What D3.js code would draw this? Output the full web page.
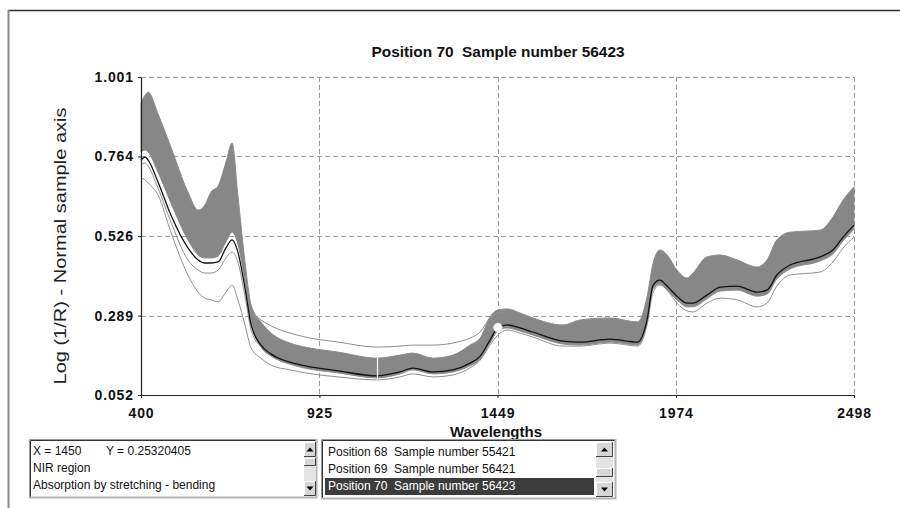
<!DOCTYPE html>
<html><head><meta charset="utf-8">
<script src="https://cdn.jsdelivr.net/npm/d3@7"></script>
<style>body{margin:0;background:#fff;} svg{display:block;}</style>
</head><body>
<svg id="chart" width="900" height="508"></svg>
<script>
// ---------- data ----------
const wavelengths = [400,412,421,450,488,538,568,588,606,627,650,668,685,706,724,753,783,838,883,980,
  1094,1162,1200,1259,1318,1368,1398,1427,1450,1477,1515,1553,1642,1692,1780,1862,1889,1907,1927,1948,
  1977,2007,2024,2065,2104,2154,2213,2242,2271,2310,2398,2436,2466,2498];

// upper envelope of the dense bundle of spectra
const bandUpper = [0.923,0.947,0.956,0.891,0.792,0.658,0.604,0.619,0.658,0.676,0.747,0.804,0.649,0.449,0.321,0.270,0.237,0.207,0.195,0.180,
  0.162,0.171,0.177,0.162,0.171,0.201,0.222,0.285,0.306,0.309,0.297,0.282,0.261,0.276,0.282,0.270,0.345,0.446,0.485,0.470,
  0.425,0.401,0.416,0.464,0.470,0.455,0.434,0.455,0.515,0.538,0.544,0.583,0.634,0.673];

// lower envelope of the dense bundle
const bandLower = [0.777,0.783,0.777,0.717,0.625,0.515,0.470,0.461,0.461,0.467,0.509,0.538,0.503,0.389,0.270,0.195,0.168,0.144,0.132,0.118,
  0.103,0.115,0.127,0.115,0.121,0.139,0.159,0.207,0.243,0.252,0.243,0.231,0.204,0.201,0.210,0.201,0.267,0.368,0.383,0.365,
  0.336,0.315,0.315,0.339,0.362,0.365,0.347,0.353,0.398,0.428,0.452,0.473,0.512,0.547];

// selected spectrum: Position 70, sample 56423 (black)
const sample70 = [0.753,0.762,0.753,0.688,0.589,0.491,0.455,0.446,0.446,0.449,0.491,0.515,0.479,0.371,0.261,0.201,0.174,0.150,0.139,0.124,
  0.109,0.121,0.132,0.121,0.127,0.147,0.168,0.216,0.2532,0.261,0.252,0.240,0.213,0.210,0.219,0.210,0.276,0.380,0.395,0.377,
  0.347,0.326,0.326,0.350,0.374,0.377,0.359,0.365,0.410,0.440,0.464,0.485,0.523,0.559];

// lowest outlying spectrum
const lowOutlier = [0.700,0.694,0.685,0.649,0.538,0.410,0.359,0.341,0.336,0.330,0.359,0.380,0.336,0.261,0.192,0.162,0.141,0.127,0.118,0.106,
  0.097,0.106,0.115,0.106,0.112,0.133,0.156,0.201,0.231,0.246,0.237,0.225,0.198,0.198,0.207,0.198,0.261,0.359,0.380,0.365,
  0.326,0.303,0.300,0.326,0.341,0.336,0.315,0.326,0.377,0.410,0.419,0.449,0.491,0.523];

// second low spectrum, visible only in the visible range
const lowOutlier2Wl = [400,412,421,450,488,538,568,588,606,627,650,668,685,706,724,753];
const lowOutlier2 = [0.738,0.744,0.735,0.670,0.568,0.455,0.425,0.416,0.416,0.425,0.461,0.479,0.449,0.347,0.246,0.197];

// spectrum lying above the bundle between ~700 and ~1450 nm
const highOutlierWl = [706,724,753,783,838,883,980,1094,1162,1200,1259,1318,1368,1398,1427,1450,1477];
const highOutlier = [0.410,0.300,0.276,0.258,0.237,0.225,0.210,0.195,0.198,0.201,0.201,0.207,0.222,0.240,0.282,0.297,0.300];

const xTicks = [400, 925, 1449, 1974, 2498];
const yTicks = [0.052, 0.289, 0.526, 0.764, 1.001];

const cursorPoint = {x: 1450, y: 0.25320405};
const cursorLineWl = 1094;

const titleText = "Position 70  Sample number 56423";
const xTitle = "Wavelengths";
const yTitle = "Log (1/R) - Normal sample axis";
const infoLines = ["NIR region", "Absorption by stretching - bending"];
const listItems = ["Position 68  Sample number 55421", "Position 69  Sample number 56421", "Position 70  Sample number 56423"];

// ---------- drawing ----------
const svg = d3.select("#chart");
const x = d3.scaleLinear().domain([400, 2498]).range([141, 854]);
const y = d3.scaleLinear().domain([0.052, 1.001]).range([395, 77]);

// outer frame
svg.append("line").attr("x1", 8).attr("y1", 10.5).attr("x2", 900).attr("y2", 10.5)
  .attr("stroke", "#333").attr("stroke-width", 1.3);
svg.append("line").attr("x1", 8.5).attr("y1", 10).attr("x2", 8.5).attr("y2", 508)
  .attr("stroke", "#8a8a8a").attr("stroke-width", 2);

// title
svg.append("text").attr("x", 498).attr("y", 57).attr("text-anchor", "middle")
  .style("white-space", "pre")
  .attr("font-family", "'Liberation Sans Narrow','Arial Narrow','Liberation Sans',Arial,sans-serif")
  .attr("font-weight", "bold").attr("font-size", 14)
  .attr("textLength", 253).attr("lengthAdjust", "spacingAndGlyphs")
  .attr("fill", "#111").text(titleText);

// grid
const grid = svg.append("g");
grid.selectAll("line.gx").data(xTicks.slice(1)).join("line")
  .attr("x1", d => Math.round(x(d)) + 0.5).attr("x2", d => Math.round(x(d)) + 0.5)
  .attr("y1", y(1.001)).attr("y2", y(0.052))
  .attr("stroke", "#9a9a9a").attr("stroke-dasharray", "5,3");
grid.selectAll("line.gy").data(yTicks.slice(1)).join("line")
  .attr("y1", d => Math.round(y(d)) + 0.5).attr("y2", d => Math.round(y(d)) + 0.5)
  .attr("x1", x(400)).attr("x2", x(2498))
  .attr("stroke", "#9a9a9a").attr("stroke-dasharray", "5,3");

// band of spectra
const idx = d3.range(wavelengths.length);
const area = d3.area()
  .x(i => x(wavelengths[i])).y0(i => y(bandLower[i])).y1(i => y(bandUpper[i]))
  .curve(d3.curveMonotoneX);
svg.append("path").attr("d", area(idx))
  .attr("fill", "#878787").attr("stroke", "#8c8c8c").attr("stroke-width", 1);

const lineOf = (wl, vals) => d3.line()
  .x((d, i) => x(wl[i])).y(d => y(d)).curve(d3.curveMonotoneX)(vals);

svg.append("path").attr("d", lineOf(highOutlierWl, highOutlier))
  .attr("fill", "none").attr("stroke", "#8f8f8f").attr("stroke-width", 1);
svg.append("path").attr("d", lineOf(lowOutlier2Wl, lowOutlier2))
  .attr("fill", "none").attr("stroke", "#8f8f8f").attr("stroke-width", 1);
svg.append("path").attr("d", lineOf(wavelengths, lowOutlier))
  .attr("fill", "none").attr("stroke", "#8f8f8f").attr("stroke-width", 1);
svg.append("path").attr("d", lineOf(wavelengths, sample70))
  .attr("fill", "none").attr("stroke", "#111").attr("stroke-width", 1.3);

// cursor marks
const ci = wavelengths.indexOf(cursorLineWl);
svg.append("line")
  .attr("x1", Math.round(x(cursorLineWl)) + 0.5).attr("x2", Math.round(x(cursorLineWl)) + 0.5)
  .attr("y1", y(bandUpper[ci])).attr("y2", y(lowOutlier[ci]))
  .attr("stroke", "#fff").attr("stroke-width", 1.2);
svg.append("circle").attr("cx", x(cursorPoint.x)).attr("cy", y(cursorPoint.y)).attr("r", 4.5)
  .attr("fill", "#fff").attr("stroke", "#d0d0d0").attr("stroke-width", 0.6);

// axes
const tickFont = "'Liberation Sans',Arial,sans-serif";
const yAxis = d3.axisLeft(y).tickValues(yTicks).tickFormat(d3.format(".3f"))
  .tickSize(3).tickSizeOuter(0).tickPadding(4);
const gy = svg.append("g").attr("transform", "translate(141,0)").call(yAxis);
const xAxis = d3.axisBottom(x).tickValues(xTicks).tickFormat(d3.format("d"))
  .tickSize(3).tickSizeOuter(0).tickPadding(10);
const gx = svg.append("g").attr("transform", "translate(0,395)").call(xAxis);
[gx, gy].forEach(g => {
  g.select(".domain").attr("stroke", "#222").attr("stroke-width", 1.2);
  g.selectAll(".tick line").attr("stroke", "#222");
  g.selectAll(".tick text").attr("font-family", tickFont).attr("font-weight", "bold")
    .attr("font-size", 14).attr("letter-spacing", 0.9).attr("fill", "#111");
});

// axis titles
svg.append("text").attr("x", 496).attr("y", 437).attr("text-anchor", "middle")
  .attr("font-family", tickFont).attr("font-weight", "bold").attr("font-size", 15)
  .attr("fill", "#111").text(xTitle);
svg.append("text").attr("transform", "translate(66,246) rotate(-90)").attr("text-anchor", "middle")
  .attr("font-family", tickFont).attr("font-size", 17)
  .attr("textLength", 277).attr("lengthAdjust", "spacingAndGlyphs")
  .attr("fill", "#222").text(yTitle);

// ---------- bottom panels ----------
function sunkenBox(x0, y0, w, h) {
  const g = svg.append("g");
  g.append("rect").attr("x", x0).attr("y", y0).attr("width", w).attr("height", h).attr("fill", "#fff");
  g.append("path").attr("d", `M${x0 + 0.5},${y0 + h}V${y0 + 0.5}H${x0 + w}`).attr("fill", "none").attr("stroke", "#9a9a9a");
  g.append("path").attr("d", `M${x0 + 1.5},${y0 + h - 1}V${y0 + 1.5}H${x0 + w - 1}`).attr("fill", "none").attr("stroke", "#333");
  g.append("path").attr("d", `M${x0},${y0 + h - 0.5}H${x0 + w - 0.5}V${y0}`).attr("fill", "none").attr("stroke", "#b5b5b5").attr("stroke-width", 2);
  return g;
}
function button(x0, y0, w, h, dir) {
  const g = svg.append("g");
  g.append("rect").attr("x", x0).attr("y", y0).attr("width", w).attr("height", h).attr("fill", "#d6d6d6");
  g.append("path").attr("d", `M${x0 + 0.5},${y0 + h}V${y0 + 0.5}H${x0 + w}`).attr("fill", "none").attr("stroke", "#fff");
  g.append("path").attr("d", `M${x0},${y0 + h - 0.5}H${x0 + w - 0.5}V${y0}`).attr("fill", "none").attr("stroke", "#444");
  if (dir) {
    const cx = x0 + w / 2, cy = y0 + h / 2;
    const pts = dir === "up"
      ? [[cx - 3.5, cy + 2], [cx + 3.5, cy + 2], [cx, cy - 2]]
      : [[cx - 3.5, cy - 2], [cx + 3.5, cy - 2], [cx, cy + 2]];
    g.append("polygon").attr("points", pts.map(p => p.join(",")).join(" ")).attr("fill", "#000");
  }
}
function scrollbar(x0, y0, w, h, thumbY, thumbH) {
  svg.append("rect").attr("x", x0).attr("y", y0).attr("width", w).attr("height", h).attr("fill", "#e4e4e4");
  button(x0, y0, w, 15, "up");
  button(x0, y0 + h - 15, w, 15, "down");
  button(x0, thumbY, w, thumbH, null);
}
const panelFont = "'Liberation Sans',Arial,sans-serif";

// left info panel
sunkenBox(29, 439, 288, 59);
scrollbar(304, 442, 12, 54, 458, 8);
svg.append("text").attr("x", 33).attr("y", 455).attr("font-family", panelFont).attr("font-size", 12)
  .attr("fill", "#111").text("X = " + cursorPoint.x);
svg.append("text").attr("x", 106).attr("y", 455).attr("font-family", panelFont).attr("font-size", 12)
  .attr("fill", "#111").text("Y = " + cursorPoint.y);
infoLines.forEach((t, i) => svg.append("text").attr("x", 33).attr("y", 472 + i * 17)
  .attr("font-family", panelFont).attr("font-size", 12).attr("fill", "#111").text(t));

// right list panel
sunkenBox(321, 439, 295, 60);
svg.append("rect").attr("x", 325).attr("y", 478).attr("width", 269).attr("height", 17).attr("fill", "#3c3c3c");
scrollbar(596, 442, 17, 55, 468, 9);
listItems.forEach((t, i) => svg.append("text").attr("x", 328).attr("y", 456 + i * 17)
  .style("white-space", "pre")
  .attr("font-family", panelFont).attr("font-size", 12)
  .attr("fill", i === listItems.length - 1 ? "#fff" : "#111").text(t));
</script>
</body></html>
